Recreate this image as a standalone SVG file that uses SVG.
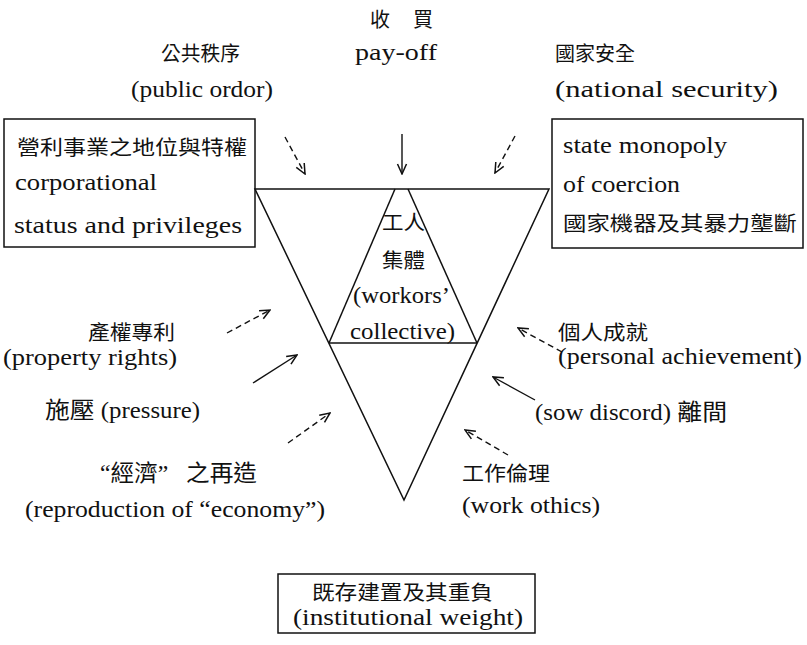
<svg xmlns="http://www.w3.org/2000/svg" width="807" height="645" viewBox="0 0 807 645">
<style>
text{font-family:"Liberation Serif","Noto Sans CJK TC",serif;font-size:23px;fill:#111}
.cjk{font-family:"Noto Sans CJK TC","Noto Sans CJK SC",sans-serif;font-size:20px}
.box{fill:none;stroke:#111;stroke-width:1.5}
.ln{fill:none;stroke:#111;stroke-width:1.5}
.ar{fill:none;stroke:#111;stroke-width:1.4;marker-end:url(#ah)}
.da{stroke-dasharray:6 4}
</style>
<defs>
<marker id="ah" viewBox="0 0 12 12" refX="11" refY="6" markerWidth="12" markerHeight="12" orient="auto" markerUnits="userSpaceOnUse">
<path d="M1,1.5 L11,6 L1,10.5" fill="none" stroke="#111" stroke-width="1.5" stroke-dasharray="none"/>
</marker>
</defs>
<rect width="807" height="645" fill="#fff"/>

<g id="triangle">
<polygon class="ln" points="255,189 549,189 404,500"/>
<polyline class="ln" points="329,343 395,189"/>
<polyline class="ln" points="408,189 477,343"/>
<line class="ln" x1="329" y1="343" x2="477" y2="343"/>
</g>

<g id="workers-collective">
<text class="cjk" x="382" y="230" textLength="43" lengthAdjust="spacingAndGlyphs">工人</text>
<text class="cjk" x="382" y="268" textLength="43" lengthAdjust="spacingAndGlyphs">集體</text>
<text x="353" y="303" textLength="97" lengthAdjust="spacingAndGlyphs">(workors’</text>
<text x="350" y="339" textLength="105" lengthAdjust="spacingAndGlyphs">collective)</text>
</g>

<g id="payoff">
<text class="cjk" x="370" y="27" textLength="63" lengthAdjust="spacing">收　買</text>
<text x="355" y="60" textLength="82" lengthAdjust="spacingAndGlyphs">pay-off</text>
</g>

<g id="public-order">
<text class="cjk" x="161" y="61" textLength="79" lengthAdjust="spacingAndGlyphs">公共秩序</text>
<text x="131" y="97" textLength="142" lengthAdjust="spacingAndGlyphs">(public ordor)</text>
</g>

<g id="national-security">
<text class="cjk" x="555" y="61" textLength="80" lengthAdjust="spacingAndGlyphs">國家安全</text>
<text x="555" y="97" textLength="223" lengthAdjust="spacingAndGlyphs">(national security)</text>
</g>

<g id="corporational-status">
<rect class="box" x="4" y="119" width="251" height="128"/>
<text class="cjk" x="17" y="155" textLength="230" lengthAdjust="spacingAndGlyphs">營利事業之地位與特權</text>
<text x="15" y="190" textLength="142" lengthAdjust="spacingAndGlyphs">corporational</text>
<text x="14" y="233" textLength="228" lengthAdjust="spacingAndGlyphs">status and privileges</text>
</g>

<g id="state-monopoly">
<rect class="box" x="552" y="119" width="251" height="129"/>
<text x="563" y="153" textLength="164" lengthAdjust="spacingAndGlyphs">state monopoly</text>
<text x="563" y="192" textLength="117" lengthAdjust="spacingAndGlyphs">of coercion</text>
<text class="cjk" x="563" y="231" textLength="234" lengthAdjust="spacingAndGlyphs">國家機器及其暴力壟斷</text>
</g>

<g id="property-rights">
<text class="cjk" x="88" y="340" textLength="87" lengthAdjust="spacingAndGlyphs">產權專利</text>
<text x="3" y="365" textLength="174" lengthAdjust="spacingAndGlyphs">(property rights)</text>
</g>

<g id="pressure">
<text x="45" y="418" textLength="155" lengthAdjust="spacingAndGlyphs">施壓 (pressure)</text>
</g>

<g id="reproduction-economy">
<text x="100" y="481" textLength="157" lengthAdjust="spacingAndGlyphs">“經濟”&#160;&#160;&#160;之再造</text>
<text x="25" y="517" textLength="300" lengthAdjust="spacingAndGlyphs">(reproduction of “economy”)</text>
</g>

<g id="personal-achievement">
<text class="cjk" x="558" y="340" textLength="90" lengthAdjust="spacingAndGlyphs">個人成就</text>
<text x="558" y="364" textLength="244" lengthAdjust="spacingAndGlyphs">(personal achievement)</text>
</g>

<g id="sow-discord">
<text x="535" y="420" textLength="192" lengthAdjust="spacingAndGlyphs">(sow discord) 離間</text>
</g>

<g id="work-ethics">
<text class="cjk" x="462" y="481" textLength="88" lengthAdjust="spacingAndGlyphs">工作倫理</text>
<text x="462" y="513" textLength="138" lengthAdjust="spacingAndGlyphs">(work othics)</text>
</g>

<g id="institutional-weight">
<rect class="box" x="278" y="574" width="257" height="59"/>
<text class="cjk" x="312" y="600" textLength="181" lengthAdjust="spacingAndGlyphs">既存建置及其重負</text>
<text x="293" y="625" textLength="230" lengthAdjust="spacingAndGlyphs">(institutional weight)</text>
</g>

<g id="connectors">
<line class="ar da" x1="285" y1="137" x2="305" y2="174"/>
<line class="ar" x1="402" y1="134" x2="402" y2="174"/>
<line class="ar da" x1="515" y1="136" x2="495" y2="173"/>
<line class="ar da" x1="227" y1="333" x2="270" y2="310"/>
<line class="ar" x1="253" y1="383" x2="297" y2="355"/>
<line class="ar da" x1="288" y1="443" x2="330" y2="413"/>
<line class="ar da" x1="562" y1="352" x2="518" y2="328"/>
<line class="ar" x1="535" y1="400" x2="493" y2="377"/>
<line class="ar da" x1="508" y1="455" x2="465" y2="430"/>
</g>
</svg>
